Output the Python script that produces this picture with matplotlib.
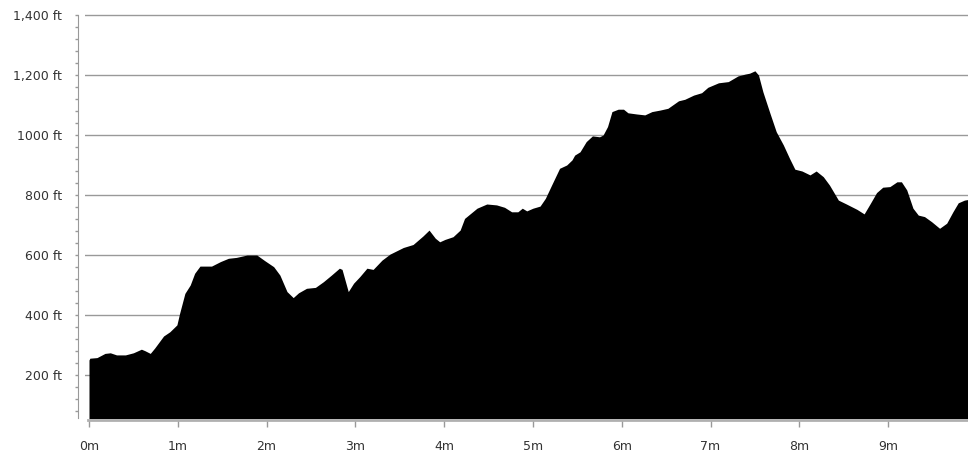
import numpy as np
import matplotlib.pyplot as plt

# профиль высоты: расстояние (мили) и высота (футы)
miles = [0.00, 0.01, 0.09, 0.18, 0.24, 0.31, 0.41, 0.50, 0.59, 0.63, 0.69, 0.74,
         0.84, 0.91, 0.99, 1.02, 1.08, 1.14, 1.19, 1.25, 1.38, 1.48, 1.57, 1.66,
         1.78, 1.89, 1.98, 2.08, 2.15, 2.23, 2.30, 2.36, 2.45, 2.55, 2.64, 2.73,
         2.82, 2.85, 2.92, 2.98, 3.05, 3.13, 3.20, 3.30, 3.39, 3.54, 3.65, 3.76,
         3.83, 3.90, 3.95, 4.01, 4.10, 4.18, 4.23, 4.37, 4.48, 4.59, 4.68, 4.76,
         4.83, 4.88, 4.93, 5.00, 5.08, 5.14, 5.21, 5.30, 5.38, 5.44, 5.47, 5.53,
         5.60, 5.67, 5.75, 5.79, 5.84, 5.89, 5.96, 6.02, 6.07, 6.17, 6.26, 6.34,
         6.43, 6.52, 6.64, 6.71, 6.81, 6.90, 6.97, 7.09, 7.20, 7.31, 7.39, 7.44,
         7.50, 7.54, 7.59, 7.67, 7.74, 7.82, 7.89, 7.95, 8.03, 8.12, 8.19, 8.27,
         8.34, 8.44, 8.53, 8.65, 8.73, 8.80, 8.87, 8.94, 9.02, 9.10, 9.15, 9.21,
         9.28, 9.34, 9.41, 9.49, 9.58, 9.66, 9.73, 9.79, 9.86, 9.90]
elev_ft = [250, 256, 258, 272, 274, 267, 267, 274, 286, 281, 272, 290,
           330, 344, 367, 405, 472, 500, 539, 563, 563, 578, 589, 592,
           600, 600, 581, 561, 533, 478, 458, 474, 489, 492, 511, 533,
           556, 552, 478, 506, 528, 556, 552, 583, 603, 625, 635, 663,
           683, 656, 644, 652, 661, 683, 722, 756, 770, 767, 759, 744,
           744, 756, 747, 756, 763, 789, 833, 889, 900, 917, 933, 944,
           978, 997, 994, 1000, 1028, 1078, 1086, 1086, 1074, 1070, 1067, 1078,
           1083, 1089, 1114, 1119, 1133, 1141, 1159, 1174, 1178, 1197, 1203, 1206,
           1214, 1200, 1144, 1072, 1011, 967, 922, 886, 880, 867, 880, 861,
           833, 783, 770, 752, 737, 772, 808, 826, 828, 844, 844, 817,
           756, 733, 728, 711, 689, 706, 744, 774, 783, 785]

y_ticks = [200, 400, 600, 800, 1000, 1200, 1400]
y_labels = ["200 ft", "400 ft", "600 ft", "800 ft", "1000 ft", "1,200 ft", "1,400 ft"]
x_ticks = list(range(10))
x_labels = [f"{m}m" for m in x_ticks]


def main():
    W, H = 968, 454
    fig = plt.figure(figsize=(W / 100, H / 100), dpi=100)
    ax = fig.add_axes([85 / W, 1 - 418 / H, 1 - 85 / W, (418 - 14.4) / H])

    ax.fill_between(miles, elev_ft, 0, color="black", lw=0, zorder=2)

    ax.set_xlim(-0.045, 9.9)
    ax.set_ylim(56.7, 1402)

    ax.set_yticks(y_ticks)
    ax.set_yticklabels(y_labels)
    ax.set_yticks(np.arange(80, 1400, 40), minor=True)
    ax.set_xticks(x_ticks)
    ax.set_xticklabels(x_labels)

    ax.set_axisbelow(True)
    ax.yaxis.grid(True, color="#999999", lw=1)

    for side in ["top", "right"]:
        ax.spines[side].set_visible(False)
    ax.spines["left"].set_position(("outward", 5))
    ax.spines["left"].set_color("#999999")
    ax.spines["left"].set_bounds(56.7, 1400)
    ax.spines["bottom"].set_color("#b0b0b0")
    ax.spines["bottom"].set_linewidth(2)
    ax.spines["bottom"].set_position(("outward", 1.5))
    ax.spines["bottom"].set_bounds(-0.01, 9.9)

    ax.tick_params(axis="x", length=5, width=1, color="#999999", pad=9,
                   labelsize=9, labelcolor="#333333")
    ax.tick_params(axis="y", which="major", length=2.5, width=1, color="#999999",
                   pad=9, labelsize=9, labelcolor="#333333")
    ax.tick_params(axis="y", which="minor", length=2.5, width=1, color="#999999")

    fig.savefig("out.png", dpi=100)


if __name__ == "__main__":
    main()
